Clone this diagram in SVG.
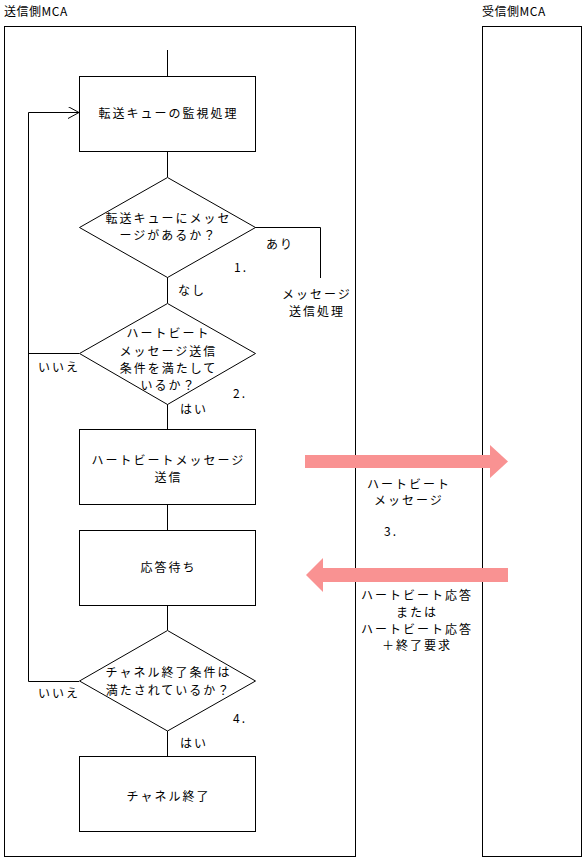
<svg xmlns="http://www.w3.org/2000/svg" width="587" height="861" viewBox="0 0 587 861">
<style>
.s{fill:none;stroke:#000;stroke-width:1}
.b{fill:#fff;stroke:#000;stroke-width:1}
text{font-family:"Noto Sans CJK JP","Liberation Sans",sans-serif;font-size:12px;fill:#000;letter-spacing:2px}
.c{text-anchor:middle}
.t{letter-spacing:0.5px}
.f{fill:#F99292;stroke:none}
</style>
<defs>
<marker id="open" markerWidth="12" markerHeight="12" refX="11" refY="6" orient="auto" markerUnits="userSpaceOnUse">
<path d="M0,0 L11,6 L0,12" fill="none" stroke="#000" stroke-width="1"/>
</marker>
</defs>
<g id="sender">
<text class="t" x="4" y="16">送信側MCA</text>
<rect class="s" x="4.5" y="26.5" width="351" height="830"/>
</g>
<g id="receiver">
<text class="t" x="482" y="16">受信側MCA</text>
<rect class="s" x="482.5" y="26.5" width="99" height="830"/>
</g>
<g id="connectors">
<line class="s" x1="167.5" y1="50" x2="167.5" y2="76"/>
<line class="s" x1="167.5" y1="151" x2="167.5" y2="177"/>
<line class="s" x1="167.5" y1="277" x2="167.5" y2="303"/>
<line class="s" x1="167.5" y1="404" x2="167.5" y2="429"/>
<line class="s" x1="167.5" y1="504" x2="167.5" y2="530"/>
<line class="s" x1="167.5" y1="605" x2="167.5" y2="630"/>
<line class="s" x1="167.5" y1="731" x2="167.5" y2="756"/>
<polyline class="s" points="255,227.5 320.5,227.5 320.5,278"/>
<polyline class="s" points="79,681.5 28.5,681.5 28.5,112.5 79,112.5" marker-end="url(#open)"/>
<line class="s" x1="28.5" y1="353.5" x2="79" y2="353.5"/>
<polygon class="f" points="305,455 490,455 490,445 508,461.5 490,478 490,468 305,468"/>
<polygon class="f" points="508,568 323,568 323,558 306,575 323,592 323,582 508,582"/>
</g>
<g id="n1">
<rect class="b" x="79.5" y="76.5" width="176" height="75"/>
<text class="c" x="168.5" y="118">転送キューの監視処理</text>
</g>
<g id="d1">
<polygon class="b" points="167.5,177.5 255.5,227.5 167.5,277.5 79.5,227.5"/>
<text class="c" x="168.5" y="223">転送キューにメッセ</text>
<text class="c" x="168.5" y="240">ージがあるか？</text>
<text x="266" y="249">あり</text>
<text x="234" y="272">1.</text>
<text x="178" y="295">なし</text>
</g>
<g id="msgproc">
<text class="c" x="317" y="299">メッセージ</text>
<text class="c" x="317" y="316">送信処理</text>
</g>
<g id="d2">
<polygon class="b" points="167.5,303.5 255.5,353.5 167.5,404.5 79.5,353.5"/>
<text class="c" x="168.5" y="338">ハートビート</text>
<text class="c" x="168.5" y="356">メッセージ送信</text>
<text class="c" x="168.5" y="373">条件を満たして</text>
<text class="c" x="168.5" y="390">いるか？</text>
<text x="38" y="372">いいえ</text>
<text x="233" y="398">2.</text>
<text x="180" y="414">はい</text>
</g>
<g id="n3">
<rect class="b" x="79.5" y="429.5" width="176" height="75"/>
<text class="c" x="168.5" y="465">ハートビートメッセージ</text>
<text class="c" x="168.5" y="482">送信</text>
</g>
<g id="hbmsg">
<text class="c" x="409" y="489">ハートビート</text>
<text class="c" x="409" y="505">メッセージ</text>
<text x="384" y="536">3.</text>
</g>
<g id="n4">
<rect class="b" x="79.5" y="530.5" width="176" height="75"/>
<text class="c" x="168.5" y="572">応答待ち</text>
</g>
<g id="hbresp">
<text class="c" x="417" y="600">ハートビート応答</text>
<text class="c" x="417" y="617">または</text>
<text class="c" x="417" y="634">ハートビート応答</text>
<text class="c" x="417" y="650">＋終了要求</text>
</g>
<g id="d4">
<polygon class="b" points="167.5,630.5 255.5,681 167.5,731 79.5,681"/>
<text class="c" x="168.5" y="677">チャネル終了条件は</text>
<text class="c" x="168.5" y="695">満たされているか？</text>
<text x="38" y="698">いいえ</text>
<text x="233" y="723">4.</text>
<text x="180" y="748">はい</text>
</g>
<g id="n5">
<rect class="b" x="79.5" y="756.5" width="176" height="75"/>
<text class="c" x="168.5" y="801">チャネル終了</text>
</g>
</svg>
